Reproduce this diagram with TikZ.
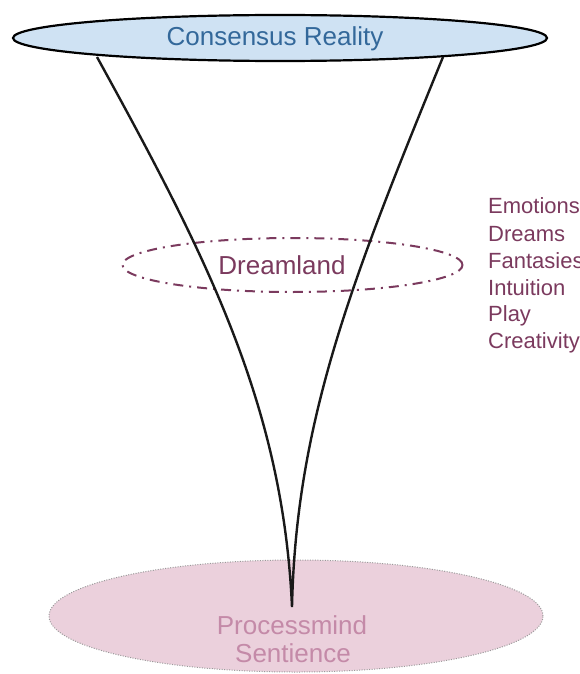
\documentclass[tikz,border=0pt]{standalone}
\usepackage{fontspec}
\setmainfont{Liberation Sans}
\usetikzlibrary{shapes.geometric}
\definecolor{topfill}{HTML}{CFE2F3}
\definecolor{toptext}{HTML}{33689A}
\definecolor{mauve}{HTML}{7B3A5E}
\definecolor{pinkfill}{HTML}{EBD0DC}
\definecolor{pinktext}{HTML}{C48AA8}
\definecolor{dotgray}{HTML}{9A9A9A}
\begin{document}
\begin{tikzpicture}[x=1pt,y=-1pt,
  lbl/.style={font=\fontsize{26}{28}\selectfont, inner sep=0pt, anchor=base},
  item/.style={font=\fontsize{22}{24}\selectfont, text=mauve, inner sep=0pt, anchor=base west},
  funnel/.style={line width=2.4pt, draw=black!90, line join=miter, miter limit=20},
  ell/.style={ellipse, inner sep=0pt}]
\useasboundingbox (0,0) rectangle (579,674);
% bottom ellipse
\node[ell, minimum width=494pt, minimum height=112pt, fill=pinkfill, draw=dotgray,
      line width=1pt, dash pattern=on 1pt off 1.5pt] (base) at (296,616) {};
% dreamland ellipse
\node[ell, minimum width=340pt, minimum height=54pt, draw=mauve, line width=2pt,
      dash pattern=on 10pt off 6pt on 2pt off 6pt] (dream) at (292.5,265) {};
% funnel
\coordinate (tl) at (97,57);
\coordinate (tr) at (443,57);
\coordinate (tip) at (292,607);
\draw[funnel] (tl) .. controls (207,257) and (283,405) .. (tip)
              .. controls (296,420) and (353,277) .. (tr);
% top ellipse
\node[ell, minimum width=534pt, minimum height=46pt, fill=topfill, draw=black,
      line width=2.2pt] (top) at (280,38) {};
% labels
\node[lbl, text=toptext] (toplbl) at (275,46) {Consensus Reality};
\node[lbl, text=mauve] (dreamlbl) at (282,274) {Dreamland};
\node[lbl, text=pinktext] (pm1) at (292,634) {Processmind};
\node[lbl, text=pinktext] (pm2) at (293,662) {Sentience};
% list
\node[item] (i1) at (488,213) {Emotions};
\node[item] (i2) at (488,241) {Dreams};
\node[item] (i3) at (488,268) {Fantasies};
\node[item] (i4) at (488,295) {Intuition};
\node[item] (i5) at (488,321) {Play};
\node[item] (i6) at (488,348) {Creativity};
\end{tikzpicture}
\end{document}
